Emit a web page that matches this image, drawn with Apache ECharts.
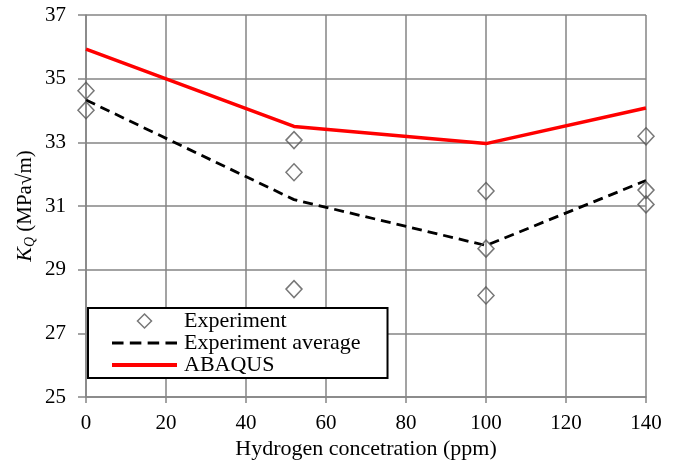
<!DOCTYPE html>
<html>
<head>
<meta charset="utf-8">
<script src="https://cdn.jsdelivr.net/npm/echarts@6/dist/echarts.min.js"></script>
<style>
  html, body { margin: 0; padding: 0; background: #fff; }
  #chart { width: 677px; height: 466px; }
</style>
</head>
<body>
<div id="chart"></div>
<script>
// 读图得到的数据
var expX = [0, 0, 52, 52, 52, 100, 100, 100, 140, 140, 140];
var expY = [34.62, 34.01, 33.07, 32.06, 28.39, 31.47, 29.66, 28.19, 33.19, 31.5, 31.05];
var avgX = [0, 52, 100, 140];
var avgY = [34.33, 31.2, 29.76, 31.8];
var abaqusX = [0, 52, 100, 140];
var abaqusY = [35.93, 33.5, 32.96, 34.08];

function pairs(xs, ys) {
  return xs.map(function (x, i) { return [x, ys[i]]; });
}

var chart = echarts.init(document.getElementById('chart'));
var serif = '"Liberation Serif", "DejaVu Serif", serif';
var gridColor = '#858585';

// 图例图标（自定义路径，保持比例）
var iconDiamond = 'path://M8,0L16,8L8,16L0,8Z';
var iconDash = 'path://M0,0h11v3h-11z M17,0h11v3h-11z M34,0h11v3h-11z M51,0h11v3h-11z';
var iconSolid = 'path://M0,0h65v4h-65z';

var option = {
  animation: false,
  backgroundColor: '#fff',
  textStyle: { fontFamily: serif },
  grid: { left: 86, right: 31, top: 15, bottom: 69 },
  legend: {
    orient: 'vertical',
    left: 88, top: 308,
    padding: [2, 27, 2, 24],
    itemGap: 0,
    itemWidth: 65,
    itemHeight: 14,
    symbolKeepAspect: true,
    borderColor: '#000',
    borderWidth: 2,
    borderRadius: 0,
    backgroundColor: '#fff',
    textStyle: { fontFamily: serif, fontSize: 22, lineHeight: 22, color: '#000', padding: [0, 0, 0, 2] },
    data: [
      { name: 'Experiment', icon: iconDiamond,
        itemStyle: { color: 'transparent', borderColor: '#555', borderWidth: 1.5 } },
      { name: 'Experiment average', icon: iconDash,
        itemStyle: { color: '#000', borderWidth: 0 } },
      { name: 'ABAQUS', icon: iconSolid,
        itemStyle: { color: '#ff0000', borderWidth: 0 } }
    ]
  },
  xAxis: {
    type: 'value',
    min: 0, max: 140, interval: 20,
    name: 'Hydrogen concetration (ppm)',
    nameLocation: 'middle',
    nameGap: 41,
    nameMoveOverlap: false,
    nameTextStyle: { fontFamily: serif, fontSize: 22, color: '#000' },
    axisLine: { show: true, lineStyle: { color: gridColor, width: 1.5 } },
    axisTick: { show: true, length: 6, lineStyle: { color: gridColor, width: 1.5 } },
    axisLabel: { margin: 16, fontFamily: serif, fontSize: 21, color: '#000' },
    splitLine: { show: true, lineStyle: { color: gridColor, width: 1.5 } }
  },
  yAxis: {
    type: 'value',
    min: 25, max: 37, interval: 2,
    name: '{k|K}{q|Q} (MPa√m)',
    nameLocation: 'middle',
    nameRotate: 90,
    nameGap: 49,
    nameMoveOverlap: false,
    nameTextStyle: {
      fontFamily: serif, fontSize: 21, color: '#000',
      rich: {
        k: { fontFamily: serif, fontSize: 22, fontStyle: 'italic', color: '#000' },
        q: { fontFamily: serif, fontSize: 14, fontStyle: 'italic', color: '#000', verticalAlign: 'bottom', padding: [9, 0, 0, 0] }
      }
    },
    axisLine: { show: true, lineStyle: { color: gridColor, width: 1.5 } },
    axisTick: { show: true, length: 8, lineStyle: { color: gridColor, width: 1.5 } },
    axisLabel: { margin: 20, fontFamily: serif, fontSize: 21, color: '#000' },
    splitLine: { show: true, lineStyle: { color: gridColor, width: 1.5 } }
  },
  series: [
    {
      name: 'Experiment',
      type: 'scatter',
      symbol: 'diamond',
      symbolSize: [16, 17],
      itemStyle: { color: 'transparent', borderColor: '#555', borderWidth: 1.5 },
      data: pairs(expX, expY),
      z: 3
    },
    {
      name: 'Experiment average',
      type: 'line',
      symbol: 'none',
      lineStyle: { color: '#000', width: 2.8, type: [10, 6] },
      itemStyle: { color: '#000' },
      data: pairs(avgX, avgY)
    },
    {
      name: 'ABAQUS',
      type: 'line',
      symbol: 'none',
      lineStyle: { color: '#ff0000', width: 3.5 },
      itemStyle: { color: '#ff0000' },
      data: pairs(abaqusX, abaqusY)
    }
  ]
};

chart.setOption(option);
</script>
</body>
</html>
